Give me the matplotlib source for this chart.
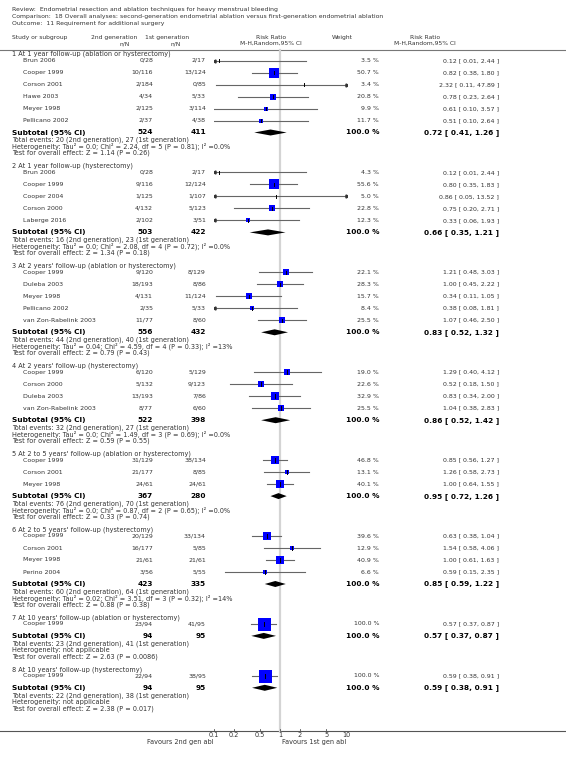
"""Forest plot - second- vs first-generation endometrial ablation, additional surgery."""
import numpy as np
import matplotlib
matplotlib.use('Agg')
import matplotlib.pyplot as plt

# ---- data -------------------------------------------------------------
group_titles = [
    "1 At 1 year follow-up (ablation or hysterectomy)",
    "2 At 1 year follow-up (hysterectomy)",
    "3 At 2 years' follow-up (ablation or hysterectomy)",
    "4 At 2 years' follow-up (hysterectomy)",
    "5 At 2 to 5 years' follow-up (ablation or hysterectomy)",
    "6 At 2 to 5 years' follow-up (hysterectomy)",
    "7 At 10 years' follow-up (ablation or hysterectomy)",
    "8 At 10 years' follow-up (hysterectomy)",
]

study_group = [0, 0, 0, 0, 0, 0,
               1, 1, 1, 1, 1,
               2, 2, 2, 2, 2,
               3, 3, 3, 3,
               4, 4, 4,
               5, 5, 5, 5,
               6,
               7]
study_names = ["Brun 2006", "Cooper 1999", "Corson 2001", "Hawe 2003", "Meyer 1998", "Pellicano 2002",
               "Brun 2006", "Cooper 1999", "Cooper 2004", "Corson 2000", "Laberge 2016",
               "Cooper 1999", "Duleba 2003", "Meyer 1998", "Pellicano 2002", "van Zon-Rabelink 2003",
               "Cooper 1999", "Corson 2000", "Duleba 2003", "van Zon-Rabelink 2003",
               "Cooper 1999", "Corson 2001", "Meyer 1998",
               "Cooper 1999", "Corson 2001", "Meyer 1998", "Perino 2004",
               "Cooper 1999",
               "Cooper 1999"]
second_gen = ["0/28", "10/116", "2/184", "4/34", "2/125", "2/37",
              "0/28", "9/116", "1/125", "4/132", "2/102",
              "9/120", "18/193", "4/131", "2/35", "11/77",
              "6/120", "5/132", "13/193", "8/77",
              "31/129", "21/177", "24/61",
              "20/129", "16/177", "21/61", "3/56",
              "23/94",
              "22/94"]
first_gen = ["2/17", "13/124", "0/85", "5/33", "3/114", "4/38",
             "2/17", "12/124", "1/107", "5/123", "3/51",
             "8/129", "8/86", "11/124", "5/33", "8/60",
             "5/129", "9/123", "7/86", "6/60",
             "38/134", "8/85", "24/61",
             "33/134", "5/85", "21/61", "5/55",
             "41/95",
             "38/95"]
weights = [3.5, 50.7, 3.4, 20.8, 9.9, 11.7,
           4.3, 55.6, 5.0, 22.8, 12.3,
           22.1, 28.3, 15.7, 8.4, 25.5,
           19.0, 22.6, 32.9, 25.5,
           46.8, 13.1, 40.1,
           39.6, 12.9, 40.9, 6.6,
           100.0,
           100.0]
rr = [0.12, 0.82, 2.32, 0.78, 0.61, 0.51,
      0.12, 0.80, 0.86, 0.75, 0.33,
      1.21, 1.00, 0.34, 0.38, 1.07,
      1.29, 0.52, 0.83, 1.04,
      0.85, 1.26, 1.00,
      0.63, 1.54, 1.00, 0.59,
      0.57,
      0.59]
rr_lo = [0.01, 0.38, 0.11, 0.23, 0.10, 0.10,
         0.01, 0.35, 0.05, 0.20, 0.06,
         0.48, 0.45, 0.11, 0.08, 0.46,
         0.40, 0.18, 0.34, 0.38,
         0.56, 0.58, 0.64,
         0.38, 0.58, 0.61, 0.15,
         0.37,
         0.38]
rr_hi = [2.44, 1.80, 47.89, 2.64, 3.57, 2.64,
         2.44, 1.83, 13.52, 2.71, 1.93,
         3.03, 2.22, 1.05, 1.81, 2.50,
         4.12, 1.50, 2.00, 2.83,
         1.27, 2.73, 1.55,
         1.04, 4.06, 1.63, 2.35,
         0.87,
         0.91]

sub_n2 = [524, 503, 556, 522, 367, 423, 94, 94]
sub_n1 = [411, 422, 432, 398, 280, 335, 95, 95]
sub_rr = [0.72, 0.66, 0.83, 0.86, 0.95, 0.85, 0.57, 0.59]
sub_lo = [0.41, 0.35, 0.52, 0.52, 0.72, 0.59, 0.37, 0.38]
sub_hi = [1.26, 1.21, 1.32, 1.42, 1.26, 1.22, 0.87, 0.91]
sub_events = ["Total events: 20 (2nd generation), 27 (1st generation)",
              "Total events: 16 (2nd generation), 23 (1st generation)",
              "Total events: 44 (2nd generation), 40 (1st generation)",
              "Total events: 32 (2nd generation), 27 (1st generation)",
              "Total events: 76 (2nd generation), 70 (1st generation)",
              "Total events: 60 (2nd generation), 64 (1st generation)",
              "Total events: 23 (2nd generation), 41 (1st generation)",
              "Total events: 22 (2nd generation), 38 (1st generation)"]
sub_het = ["Heterogeneity: Tau\u00b2 = 0.0; Chi\u00b2 = 2.24, df = 5 (P = 0.81); I\u00b2 =0.0%",
           "Heterogeneity: Tau\u00b2 = 0.0; Chi\u00b2 = 2.08, df = 4 (P = 0.72); I\u00b2 =0.0%",
           "Heterogeneity: Tau\u00b2 = 0.04; Chi\u00b2 = 4.59, df = 4 (P = 0.33); I\u00b2 =13%",
           "Heterogeneity: Tau\u00b2 = 0.0; Chi\u00b2 = 1.49, df = 3 (P = 0.69); I\u00b2 =0.0%",
           "Heterogeneity: Tau\u00b2 = 0.0; Chi\u00b2 = 0.87, df = 2 (P = 0.65); I\u00b2 =0.0%",
           "Heterogeneity: Tau\u00b2 = 0.02; Chi\u00b2 = 3.51, df = 3 (P = 0.32); I\u00b2 =14%",
           "Heterogeneity: not applicable",
           "Heterogeneity: not applicable"]
sub_test = ["Test for overall effect: Z = 1.14 (P = 0.26)",
            "Test for overall effect: Z = 1.34 (P = 0.18)",
            "Test for overall effect: Z = 0.79 (P = 0.43)",
            "Test for overall effect: Z = 0.59 (P = 0.55)",
            "Test for overall effect: Z = 0.33 (P = 0.74)",
            "Test for overall effect: Z = 0.88 (P = 0.38)",
            "Test for overall effect: Z = 2.63 (P = 0.0086)",
            "Test for overall effect: Z = 2.38 (P = 0.017)"]

axis_ticks = [0.1, 0.2, 0.5, 1, 2, 5, 10]
axis_tick_labels = ["0.1", "0.2", "0.5", "1", "2", "5", "10"]

# ---- layout (pixels) -----------------------------------------------------
W, H = 566, 760
X_HEAD, X_STUDY = 12, 23
X_N2, X_N1 = 153, 206
X_WEIGHT, X_EFFECT = 379, 499
PLOT_L, PLOT_R = 213.5, 346.5
ROW = 12.0
GAP = 33.4
AXIS_Y = 731

TXT = '#333333'
FS_TITLE, FS_STUDY, FS_SMALL, FS_BOLD = 4.4, 4.5, 4.7, 5.3

fig = plt.figure(figsize=(W / 100, H / 100), dpi=100)
ax = fig.add_axes([0, 0, 1, 1])
ax.set_xlim(0, W)
ax.set_ylim(H, 0)
ax.axis('off')

fax = fig.add_axes([PLOT_L / W, 0, (PLOT_R - PLOT_L) / W, 1])
fax.set_xscale('log')
fax.set_xlim(0.1, 10)
fax.set_ylim(H, 0)
fax.axis('off')
fax.patch.set_alpha(0)

# header
ax.text(X_HEAD, 9, "Review:  Endometrial resection and ablation techniques for heavy menstrual bleeding",
        fontsize=FS_TITLE, color=TXT, va='center')
ax.text(X_HEAD, 16.3, "Comparison:  18 Overall analyses: second-generation endometrial ablation versus first-generation endometrial ablation",
        fontsize=FS_TITLE, color=TXT, va='center')
ax.text(X_HEAD, 23.6, "Outcome:  11 Requirement for additional surgery",
        fontsize=FS_TITLE, color=TXT, va='center')
ax.text(X_HEAD, 37.5, "Study or subgroup", fontsize=4.3, color=TXT, va='center')
ax.text(114, 37.5, "2nd generation", fontsize=4.3, color=TXT, va='center', ha='center')
ax.text(125, 43.5, "n/N", fontsize=4.3, color=TXT, va='center', ha='center')
ax.text(167, 37.5, "1st generation", fontsize=4.3, color=TXT, va='center', ha='center')
ax.text(176, 43.5, "n/N", fontsize=4.3, color=TXT, va='center', ha='center')
ax.text(271, 37.5, "Risk Ratio", fontsize=4.3, color=TXT, va='center', ha='center')
ax.text(271, 43.5, "M-H,Random,95% CI", fontsize=4.3, color=TXT, va='center', ha='center')
ax.text(342, 37.5, "Weight", fontsize=4.3, color=TXT, va='center', ha='center')
ax.text(425, 37.5, "Risk Ratio", fontsize=4.3, color=TXT, va='center', ha='center')
ax.text(425, 43.5, "M-H,Random,95% CI", fontsize=4.3, color=TXT, va='center', ha='center')
ax.plot([0, W], [49.5, 49.5], color='#777777', lw=0.8)

# null line
fax.plot([1, 1], [50, AXIS_Y], color='#d4d4d4', lw=1.6, zorder=0)

study_group = np.array(study_group)
y0 = 54.0
for g, title in enumerate(group_titles):
    idx = np.where(study_group == g)[0]
    ax.text(X_HEAD, y0, title, fontsize=FS_SMALL, color=TXT, va='center')
    for i, k in enumerate(idx):
        y = y0 + 6.5 + ROW * i
        ax.text(X_STUDY, y, study_names[k], fontsize=FS_STUDY, color=TXT, va='center')
        ax.text(X_N2, y, second_gen[k], fontsize=FS_STUDY, color=TXT, va='center', ha='right')
        ax.text(X_N1, y, first_gen[k], fontsize=FS_STUDY, color=TXT, va='center', ha='right')
        ax.text(X_WEIGHT, y, f"{weights[k]:.1f} %", fontsize=FS_STUDY, color=TXT, va='center', ha='right')
        ax.text(X_EFFECT, y, f"{rr[k]:.2f} [ {rr_lo[k]:.2f}, {rr_hi[k]:.2f} ]",
                fontsize=FS_STUDY, color=TXT, va='center', ha='right')
        lo, hi = max(rr_lo[k], 0.1), min(rr_hi[k], 10)
        fax.plot([lo, hi], [y, y], color='#666666', lw=0.8, zorder=2)
        if rr_lo[k] < 0.1:
            fax.plot(0.1, y, marker='<', color='#333333', markersize=2.2, zorder=3)
        if rr_hi[k] > 10:
            fax.plot(10, y, marker='>', color='#333333', markersize=2.2, zorder=3)
        side = 13 * np.sqrt(weights[k] / 100)
        if side >= 3:
            fax.plot(rr[k], y, marker='s', color='#0000ff', markersize=side * 0.72,
                     markeredgewidth=0, zorder=3)
        fax.plot([rr[k], rr[k]], [y - 1.8, y + 1.8], color='black', lw=0.7, zorder=4)

    ys = y0 + 6.5 + ROW * len(idx)
    ax.text(X_HEAD, ys, "Subtotal (95% CI)", fontsize=FS_BOLD, fontweight='bold', va='center')
    ax.text(X_N2, ys, str(sub_n2[g]), fontsize=FS_BOLD, fontweight='bold', va='center', ha='right')
    ax.text(X_N1, ys, str(sub_n1[g]), fontsize=FS_BOLD, fontweight='bold', va='center', ha='right')
    ax.text(X_WEIGHT, ys, "100.0 %", fontsize=FS_BOLD, fontweight='bold', va='center', ha='right')
    ax.text(X_EFFECT, ys, f"{sub_rr[g]:.2f} [ {sub_lo[g]:.2f}, {sub_hi[g]:.2f} ]",
            fontsize=FS_BOLD, fontweight='bold', va='center', ha='right')
    fax.fill([sub_lo[g], sub_rr[g], sub_hi[g], sub_rr[g]], [ys, ys - 3, ys, ys + 3],
             color='black', lw=0, zorder=3)
    ax.text(X_HEAD, ys + 7.5, sub_events[g], fontsize=FS_SMALL, color=TXT, va='center')
    ax.text(X_HEAD, ys + 14, sub_het[g], fontsize=FS_SMALL, color=TXT, va='center')
    ax.text(X_HEAD, ys + 20.5, sub_test[g], fontsize=FS_SMALL, color=TXT, va='center')
    y0 = ys + GAP

# bottom axis
ax.plot([0, W], [AXIS_Y, AXIS_Y], color='#555555', lw=0.8)
for t, lab in zip(axis_ticks, axis_tick_labels):
    fax.plot([t, t], [AXIS_Y - 2, AXIS_Y], color='#555555', lw=0.6)
    fax.text(t, AXIS_Y + 4, lab, fontsize=FS_SMALL, color=TXT, ha='center', va='center')
ax.text(PLOT_L, AXIS_Y + 11, "Favours 2nd gen abl", fontsize=FS_SMALL, color=TXT, ha='right', va='center')
ax.text(282, AXIS_Y + 11, "Favours 1st gen abl", fontsize=FS_SMALL, color=TXT, ha='left', va='center')

plt.savefig('out.png', dpi=100)
plt.close()
